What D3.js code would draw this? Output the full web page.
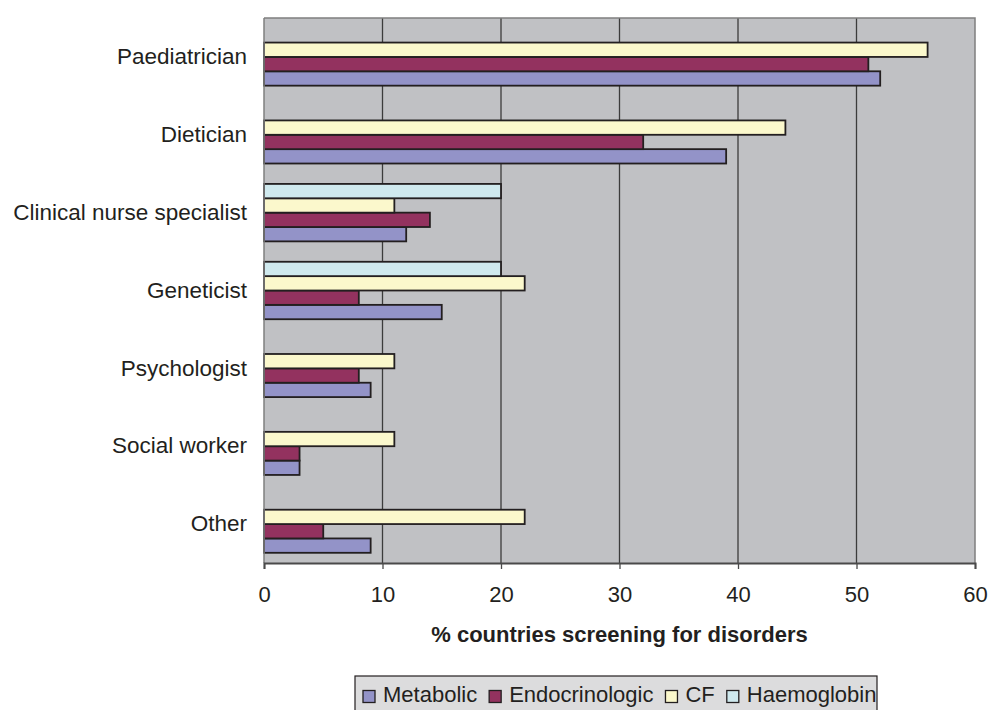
<!DOCTYPE html>
<html>
<head>
<meta charset="utf-8">
<script src="https://cdn.jsdelivr.net/npm/d3@7"></script>
<style>
  html, body { margin: 0; padding: 0; background: #fff; }
  svg { display: block; font-family: "Liberation Sans", Arial, sans-serif; }
</style>
</head>
<body>
<svg id="chart" width="989" height="710"></svg>
<script>
// Professions involved in follow-up, by screening programme type
const categories = ["Paediatrician", "Dietician", "Clinical nurse specialist",
                    "Geneticist", "Psychologist", "Social worker", "Other"];
const seriesNames = ["Metabolic", "Endocrinologic", "CF", "Haemoglobin"];
const metabolic      = [52, 39, 12, 15, 9, 3, 9];
const endocrinologic = [51, 32, 14, 8, 8, 3, 5];
const cf             = [56, 44, 11, 22, 11, 11, 22];
const haemoglobin    = [0, 0, 20, 20, 0, 0, 0];
const xTicks = [0, 10, 20, 30, 40, 50, 60];
const xTitle = "% countries screening for disorders";

const seriesValues = [metabolic, endocrinologic, cf, haemoglobin];
const colors = { Metabolic: "#9393c8", Endocrinologic: "#93325f", CF: "#fbf8cc", Haemoglobin: "#cfe9ee" };

const svg = d3.select("#chart");
const plot = { left: 264, right: 975, top: 18, bottom: 563 };

const x = d3.scaleLinear().domain([0, 60]).range([plot.left, plot.right]);
const y = d3.scaleBand().domain(categories).range([plot.top, plot.bottom]).padding(0);
const bw = y.bandwidth();
const groupPad = bw * 0.131;
// within each category the Haemoglobin bar is on top, Metabolic at the bottom
const inner = d3.scaleBand().domain(seriesNames.slice().reverse())
  .range([groupPad, bw - groupPad]).padding(0);

// plot background
svg.append("rect")
  .attr("x", plot.left).attr("y", plot.top)
  .attr("width", plot.right - plot.left).attr("height", plot.bottom - plot.top)
  .attr("fill", "#c0c1c4");

// vertical gridlines
svg.append("g").selectAll("line")
  .data(xTicks.filter(t => t > 0 && t < 60))
  .join("line")
  .attr("x1", d => x(d)).attr("x2", d => x(d))
  .attr("y1", plot.top).attr("y2", plot.bottom)
  .attr("stroke", "#3c3c3c").attr("stroke-width", 1.3);

// plot border (top and right)
svg.append("path")
  .attr("d", `M${plot.left},${plot.top}H${plot.right}V${plot.bottom}`)
  .attr("fill", "none").attr("stroke", "#7f7f7f").attr("stroke-width", 1.5);

// bars
const rows = [];
categories.forEach((c, i) => {
  seriesNames.forEach((s, j) => {
    const v = seriesValues[j][i];
    if (v > 0) rows.push({ category: c, series: s, value: v });
  });
});

svg.append("g").selectAll("rect")
  .data(rows)
  .join("rect")
  .attr("x", x(0))
  .attr("y", d => y(d.category) + inner(d.series))
  .attr("width", d => x(d.value) - x(0))
  .attr("height", inner.bandwidth())
  .attr("fill", d => colors[d.series])
  .attr("stroke", "#231f20")
  .attr("stroke-width", 1.8);

// left axis line
svg.append("line")
  .attr("x1", plot.left).attr("x2", plot.left)
  .attr("y1", plot.top).attr("y2", plot.bottom)
  .attr("stroke", "#7f7f7f").attr("stroke-width", 1.5);

// bottom axis
const xAxis = d3.axisBottom(x).tickValues(xTicks).tickSize(6).tickPadding(17)
  .tickFormat(d3.format("d"));
const gx = svg.append("g").attr("transform", `translate(0,${plot.bottom})`).call(xAxis);
gx.select(".domain").attr("stroke", "#4a4a4a").attr("stroke-width", 2);
gx.selectAll(".tick line").attr("stroke", "#4a4a4a").attr("stroke-width", 1.3);
gx.selectAll(".tick text")
  .attr("font-size", 22).attr("fill", "#231f20")
  .attr("font-family", "'Liberation Sans', Arial, sans-serif");

// category labels
const gy = svg.append("g").attr("transform", `translate(${plot.left},0)`)
  .call(d3.axisLeft(y).tickSize(0).tickPadding(17));
gy.select(".domain").remove();
gy.selectAll(".tick text")
  .attr("font-size", 22.5).attr("fill", "#231f20")
  .attr("font-family", "'Liberation Sans', Arial, sans-serif");

// axis title
svg.append("text")
  .attr("x", (plot.left + plot.right) / 2).attr("y", 642)
  .attr("text-anchor", "middle")
  .attr("font-size", 22).attr("font-weight", "bold").attr("fill", "#231f20")
  .text(xTitle);

// legend
const legend = svg.append("g");
legend.append("rect")
  .attr("x", 355).attr("y", 676).attr("width", 522).attr("height", 44)
  .attr("fill", "#dcdcdd").attr("stroke", "#231f20").attr("stroke-width", 1.2);

let lx = 363;
seriesNames.forEach(s => {
  legend.append("rect")
    .attr("x", lx).attr("y", 690.5).attr("width", 12).attr("height", 12)
    .attr("fill", colors[s]).attr("stroke", "#231f20").attr("stroke-width", 1.3);
  const t = legend.append("text")
    .attr("x", lx + 20).attr("y", 702)
    .attr("font-size", 22).attr("fill", "#231f20")
    .text(s);
  lx += 20 + t.node().getComputedTextLength() + 12;
});
</script>
</body>
</html>
